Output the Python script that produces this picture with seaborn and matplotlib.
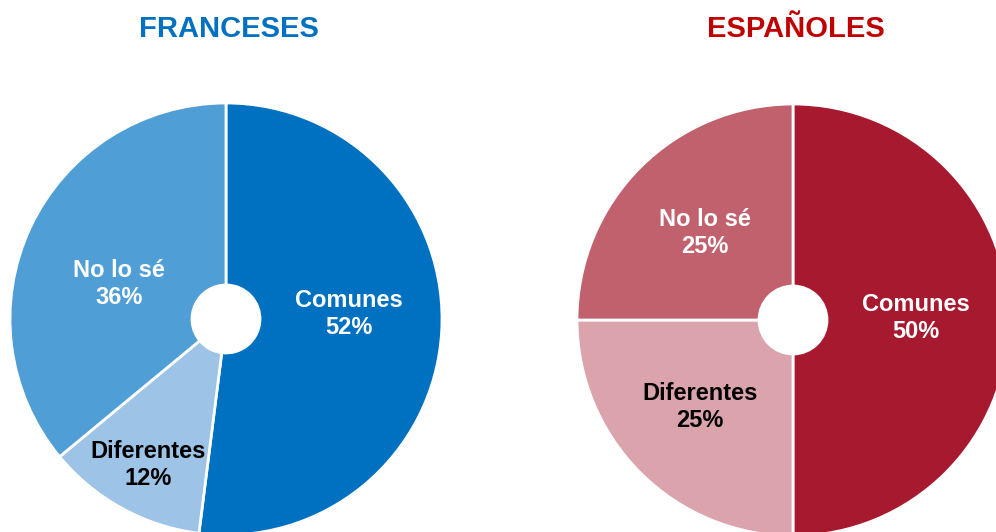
import matplotlib.pyplot as plt
import seaborn as sns

# data
categories = ['Comunes', 'Diferentes', 'No lo sé']
franceses = [52, 12, 36]
espanoles = [50, 25, 25]

fr_colors = ['#0070C0', '#9DC3E6', '#4F9ED6']
es_colors = ['#A6192E', '#DBA4AD', '#C0616D']
label_colors = ['white', 'black', 'white']

sns.set_theme(style='white')
plt.rcParams['font.family'] = ['Liberation Sans', 'DejaVu Sans']

W, H = 996, 532
fig = plt.figure(figsize=(W / 100, H / 100), dpi=100)
ax = fig.add_axes([0, 0, 1, 1])

R = 216
HOLE = 34
pies = [
    ('FRANCESES', '#0070C0', franceses, fr_colors, (226, H - 319),
     [(349, H - 314), (148, H - 465), (119, H - 284)]),
    ('ESPAÑOLES', '#C00000', espanoles, es_colors, (793, H - 320),
     [(916, H - 318), (700, H - 407), (705, H - 233)]),
]

for title, tcolor, vals, cols, center, lpos in pies:
    ax.pie(vals, colors=cols, startangle=90, counterclock=False,
           center=center, radius=R,
           wedgeprops=dict(width=R - HOLE, edgecolor='white', linewidth=2))
    for cat, v, (x, y), lc in zip(categories, vals, lpos, label_colors):
        ax.text(x, y, f'{cat}\n{v}%', ha='center', va='center',
                fontsize=17, fontweight='bold', color=lc, linespacing=1.2)
    ax.text(center[0] + 3, H - 29, title, ha='center', va='center',
            fontsize=21, fontweight='bold', color=tcolor)

ax.set_xlim(0, W)
ax.set_ylim(0, H)
ax.set_aspect('equal')
ax.axis('off')

fig.savefig('out.png', dpi=100)
